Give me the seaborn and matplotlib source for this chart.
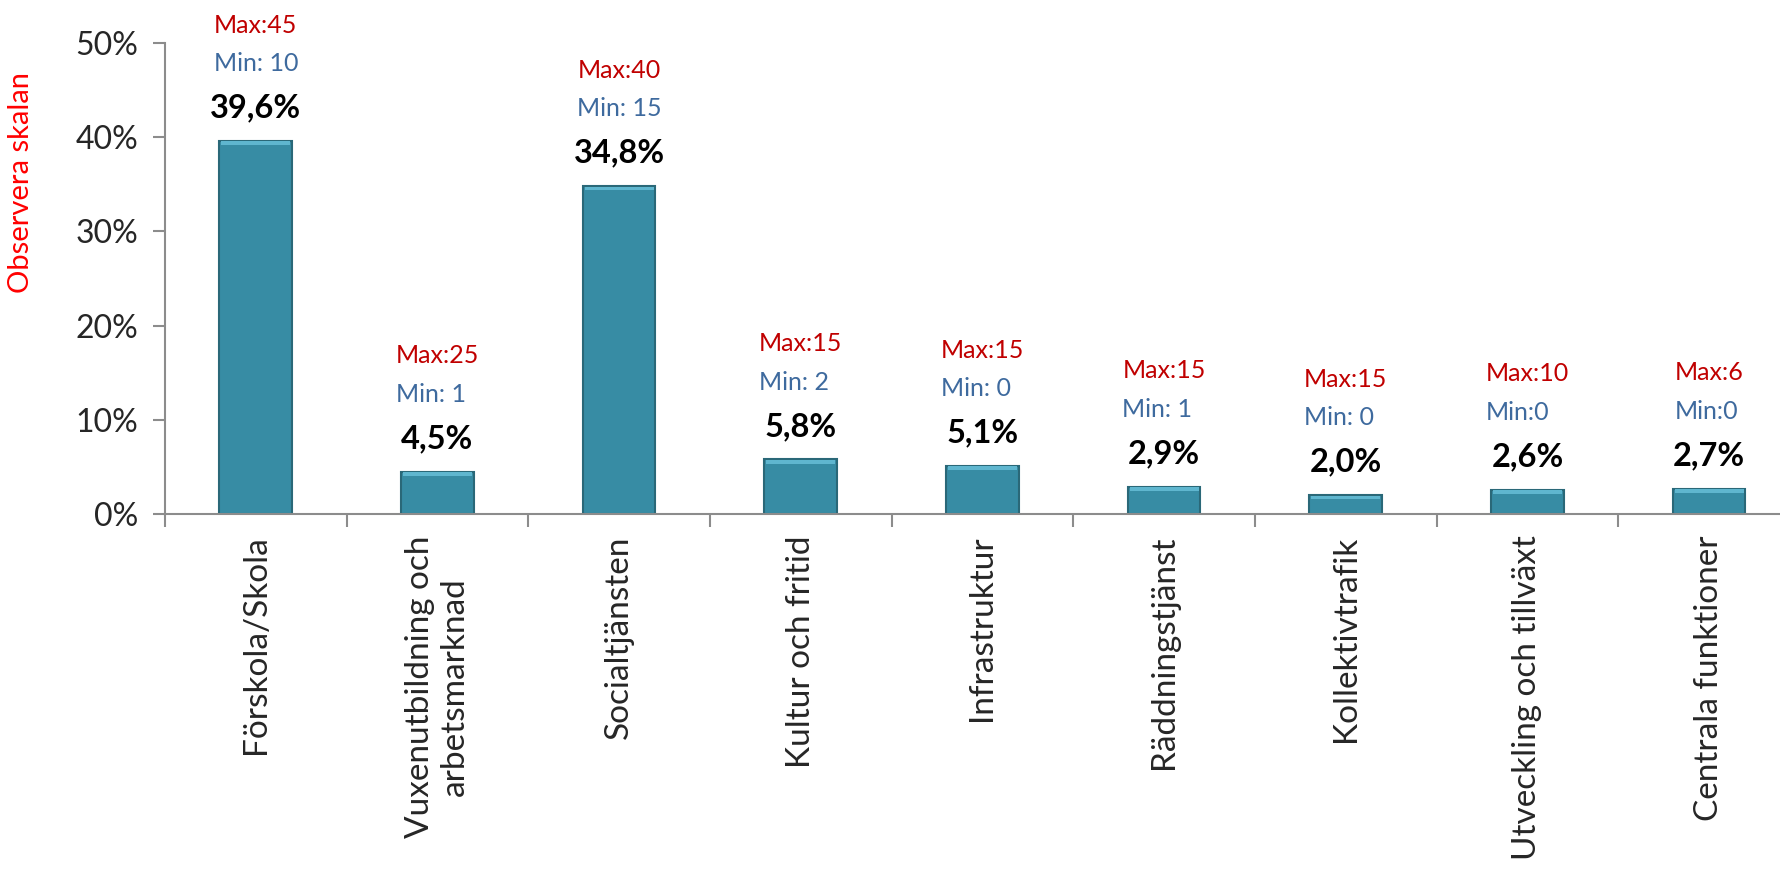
import numpy as np
import pandas as pd
import seaborn as sns
import matplotlib.pyplot as plt
from matplotlib.ticker import FixedLocator, PercentFormatter

# data
categories = ["Förskola/Skola", "Vuxenutbildning och\narbetsmarknad", "Socialtjänsten",
              "Kultur och fritid", "Infrastruktur", "Räddningstjänst", "Kollektivtrafik",
              "Utveckling och tillväxt", "Centrala funktioner"]
values = [39.6, 4.5, 34.8, 5.8, 5.1, 2.9, 2.0, 2.6, 2.7]
pct_labels = ["39,6%", "4,5%", "34,8%", "5,8%", "5,1%", "2,9%", "2,0%", "2,6%", "2,7%"]
max_labels = ["Max:45", "Max:25", "Max:40", "Max:15", "Max:15", "Max:15", "Max:15", "Max:10", "Max:6"]
min_labels = ["Min: 10", "Min: 1", "Min: 15", "Min: 2", "Min: 0", "Min: 1", "Min: 0", "Min:0", "Min:0"]

df = pd.DataFrame({"kategori": categories, "andel": values})

sns.set_style("white")
plt.rcParams["font.family"] = ["Lato", "DejaVu Sans"]

fig = plt.figure(figsize=(17.81, 8.69), dpi=100)
ax = fig.add_axes([0.0926, 0.4085, 0.918, 0.542])

sns.barplot(data=df, x="kategori", y="andel", color="#378ca4", width=0.4,
            edgecolor="#2a6878", linewidth=1.5, saturation=1, ax=ax)

# soft bevel on top of each bar
for p in ax.patches:
    x0, w, h = p.get_x(), p.get_width(), p.get_height()
    ax.fill_between([x0 + 0.01, x0 + w - 0.01], h - min(0.45, h * 0.25), h - 0.05,
                    color="#5fb6cf", lw=0, zorder=p.get_zorder() + 0.1)

ax.set_xlim(-0.5, 8.5)
ax.set_ylim(0, 50)
ax.set_yticks([0, 10, 20, 30, 40, 50])
ax.yaxis.set_major_formatter(PercentFormatter(decimals=0))
ax.set_xlabel("")
ax.set_ylabel("")

for s in ["top", "right"]:
    ax.spines[s].set_visible(False)
for s in ["left", "bottom"]:
    ax.spines[s].set_color("#8c8c8c")
    ax.spines[s].set_linewidth(1.5)

ax.tick_params(axis="y", left=True, length=9, width=1.5, color="#8c8c8c",
               labelsize=23, pad=10)
ax.tick_params(axis="x", which="major", bottom=False, labelsize=24, pad=12)
ax.xaxis.set_minor_locator(FixedLocator(np.arange(-0.5, 9.0, 1.0)))
ax.tick_params(axis="x", which="minor", bottom=True, length=9, width=1.5, color="#8c8c8c")
ax.set_xticks(range(len(categories)))
ax.set_xticklabels(categories, rotation=90, va="top", ha="center", multialignment="center")

# labels above bars
fig.canvas.draw()
renderer = fig.canvas.get_renderer()
for i, v in enumerate(values):
    ax.text(i, v + 3.5, pct_labels[i], ha="center", va="center",
            fontsize=23.5, fontweight="bold", color="black")
    t = ax.text(i, v + 12.3, max_labels[i], ha="center", va="center",
                fontsize=18, color="#c00000")
    bb = t.get_window_extent(renderer)
    xleft = ax.transData.inverted().transform((bb.x0, bb.y0))[0]
    ax.text(xleft, v + 8.2, min_labels[i], ha="left", va="center",
            fontsize=18, color="#3e6a9e")

fig.text(0.012, 0.79, "Observera skalan", rotation=90, ha="center", va="center",
         fontsize=21, color="red")

fig.savefig("out.png", dpi=100)
